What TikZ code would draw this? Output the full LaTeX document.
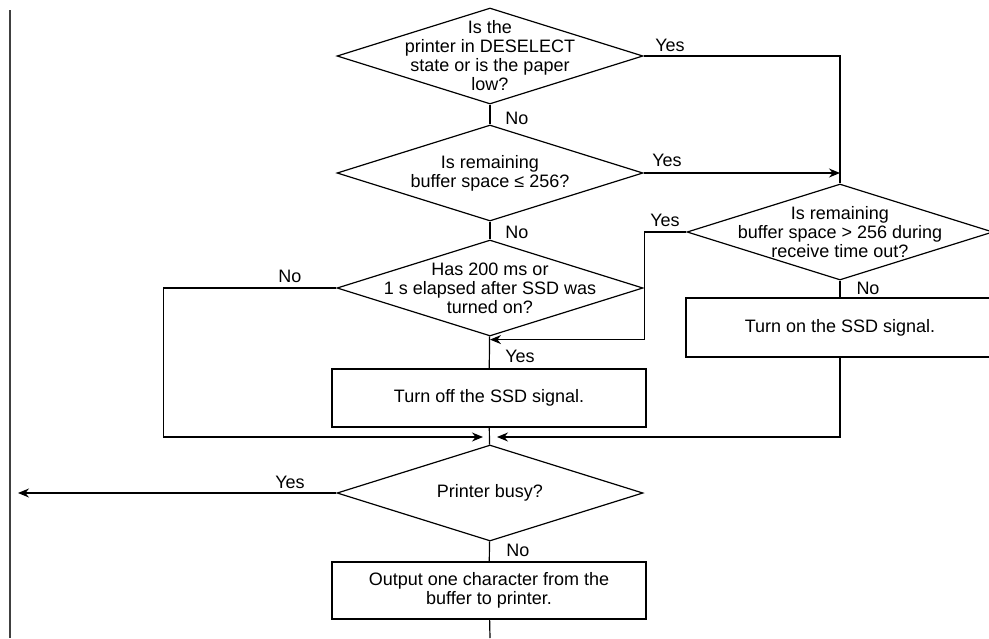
\documentclass[tikz,border=0pt]{standalone}
\usepackage{fontspec}
\setmainfont{Liberation Sans}
\usetikzlibrary{positioning, arrows.meta, shapes.geometric, calc}

\begin{document}
\begin{tikzpicture}[
    x=1pt, y=-1pt,
    font=\fontsize{18}{19}\selectfont,
    decision/.style={diamond, draw, line width=1.2pt, minimum width=306pt, minimum height=96pt, inner sep=0pt},
    dtext/.style={align=center, inner sep=0pt},
    process/.style={rectangle, draw, line width=1.2pt, minimum width=314pt, minimum height=58pt, align=center, inner sep=0pt},
    line/.style={line width=1.2pt},
    arrow/.style={line width=1.2pt, -{Stealth[length=11pt, width=9pt]}},
    tag/.style={inner sep=0pt},
]
\useasboundingbox (0,0) rectangle (989,638);

% left margin rule
\draw[line width=2pt, black!75] (10,10) -- (10,638);

% main column
\node[decision, label={[dtext]center:Is the\\printer in DESELECT\\state or is the paper\\low?}] (busy1) at (490,56) {};
\node[decision, label={[dtext]center:Is remaining\\buffer space ≤ 256?}] (space) at (490,173) {};
\node[decision, label={[dtext]center:Has 200 ms or\\1 s elapsed after SSD was\\turned on?}] (timer) at (490,288) {};
\node[process] (ssdoff) at (489,398) {Turn off the SSD signal.};
\node[decision, label={[dtext]center:Printer busy?}] (busy2) at (490,493) {};
\node[process, minimum height=57pt] (output) at (489,590.5) {Output one character from the\\buffer to printer.};

% right branch
\node[decision, label={[dtext]center:Is remaining\\buffer space > 256 during\\receive time out?}] (timeout) at (840,232) {};
\node[process, minimum width=308pt, minimum height=59pt] (ssdon) at (840,327.5) {Turn on the SSD signal.};

\coordinate (join) at (490,437);
\coordinate (exit) at (18,493);
\coordinate (down) at (490,638);

\draw[line] (busy1) -- (space);
\draw[line] (space) -- (timer);
\draw[line] (timer) -- (ssdoff);
\draw[line] (ssdoff) -- (busy2);
\draw[line] (busy2) -- (output);
\draw[line] (output) -- (down);

\draw[line] (busy1.east) -| (timeout.north);
\draw[arrow] (space.east) -- (timeout.north |- space.east);
\draw[arrow] (timeout.west) -- ++(-42,0) |- ([yshift=-3pt]timer.south);
\draw[line] (timeout) -- (ssdon);
\draw[arrow] (ssdon.south) |- ([xshift=7pt]join);
\draw[arrow] (timer.west) -- ++(-173,0) |- ([xshift=-7pt]join);
\draw[arrow] (busy2.west) -- (exit);

% branch labels
\node[tag] at (670,45) {Yes};
\node[tag] at (517,118) {No};
\node[tag] at (667,160) {Yes};
\node[tag] at (517,232) {No};
\node[tag] at (665,220) {Yes};
\node[tag] at (868,288) {No};
\node[tag] at (290,276) {No};
\node[tag] at (520,356) {Yes};
\node[tag] at (290,482) {Yes};
\node[tag] at (518,550) {No};

\end{tikzpicture}
\end{document}
